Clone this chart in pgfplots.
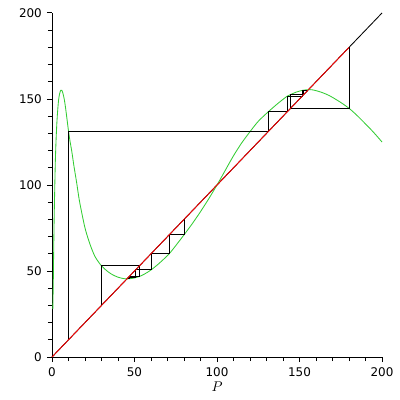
\documentclass[border=0pt]{standalone}
\usepackage{fontspec}
\setmainfont{DejaVu Sans}
\usepackage{pgfplots}
\pgfplotsset{compat=1.18}

\definecolor{mgreen}{rgb}{0.2,0.8,0.2}

\begin{document}
\begin{tikzpicture}
\begin{axis}[
    scale only axis,
    width=8.25cm, height=8.6cm,
    xmin=0, xmax=200, ymin=0, ymax=200,
    axis x line=bottom, axis y line=left,
    axis line style={-, line width=0.7pt},
    tick align=outside,
    xtick={0,50,...,200}, ytick={0,50,...,200},
    minor x tick num=4, minor y tick num=4,
    major tick length=0.13cm, minor tick length=0.1cm,
    tick style={black, line width=0.7pt},
    ticklabel style={font=\fontsize{8.5}{10}\selectfont},
    /pgf/number format/assume math mode=true,
    xlabel={$P$},
    x label style={at={(axis description cs:0.5,-0.087)}, anchor=center},
    clip=false,
]

% identity line
\addplot[black, line width=0.6pt] coordinates {(0,0) (200,200)};

% green map
\addplot[mgreen, line width=0.6pt, smooth, tension=0.5] coordinates {
(0.5,28) (0.8,45) (1.0,60) (1.3,80) (1.6,95) (2.0,113) (2.5,127) (3.0,137)
(3.5,144) (4.0,149.5) (4.6,153) (5.3,155) (6.0,155) (6.7,153) (7.5,149.5)
(8.2,145) (9.0,139) (10,131.4) (11,125) (12,119.5) (13.3,111) (15,101)
(16.4,92) (18,84) (20,75) (22,68.5) (24,63) (26,58.5) (28,55.5) (30,53)
(33,50.3) (36,48.2) (40,46.4) (44,45.5) (47,45.5) (50,46) (53,46.8)
(56,48.2) (60,50.6) (65,54.5) (71,60) (76,66) (80,71) (85,77.5) (90,84.5)
(95,92) (100,100) (105,108.5) (110,117) (115,124.5) (120,131) (125,137)
(131,142.5) (137,147.5) (142.5,151.6) (144.6,152.6) (148,154) (151.7,155)
(155,155.4) (158,155.3) (163,154) (168,152) (174,148.6) (180,144.6)
(185,140.3) (190,135.5) (195,130.5) (200,125)
};

% cobwebs
\addplot[black, line width=0.6pt] coordinates {
(10,10) (10,131.4) (131.4,131.4) (131.4,142.5) (142.5,142.5) (142.5,151.6)
(151.6,151.6) (151.6,155) (155,155)
};
\addplot[black, line width=0.6pt] coordinates {
(180,180) (180,144.6) (144.6,144.6) (144.6,152.6) (152.6,152.6) (152.6,155.2)
(155.2,155.2)
};
\addplot[black, line width=0.6pt] coordinates {
(30,30) (30,53) (53,53) (53,46.8) (46.8,46.8) (46.8,45.6) (45.6,45.6)
};
\addplot[black, line width=0.6pt] coordinates {
(80,80) (80,71.2) (71.2,71.2) (71.2,60.2) (60.2,60.2) (60.2,50.8)
(50.8,50.8) (50.8,46.2) (46.2,46.2) (46.2,45.6) (45.6,45.6)
};

% red line
\addplot[red, line width=0.6pt] coordinates {(0,0) (180,180)};

\end{axis}
\path (current axis.south west) ++(-1.3cm,-1.075cm) rectangle ([xshift=0.45cm,yshift=0.325cm]current axis.north east);
\end{tikzpicture}
\end{document}
